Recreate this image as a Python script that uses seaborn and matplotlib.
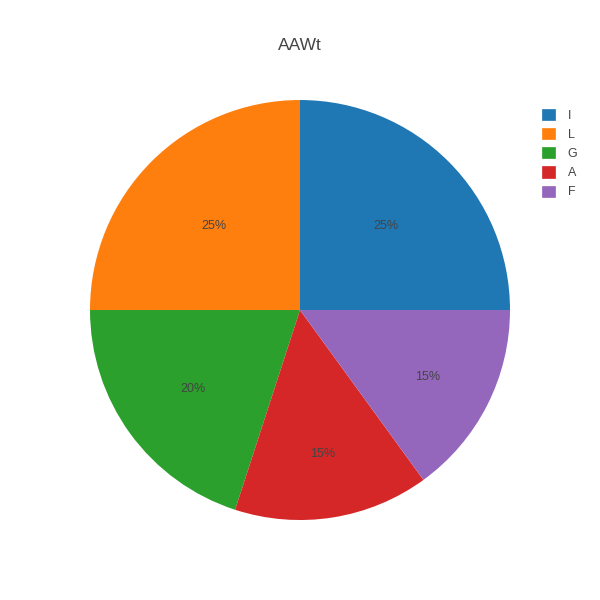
"""Pie chart of AAWt composition."""

import matplotlib
matplotlib.use("Agg")
import matplotlib.pyplot as plt
from matplotlib.patches import Patch
import numpy as np
import seaborn as sns

labels = ["I", "L", "G", "A", "F"]
shares = [25, 25, 20, 15, 15]
title = "AAWt"

sns.set_theme(style="white")
plt.rcParams["font.family"] = ["Liberation Sans", "DejaVu Sans"]

colors = sns.color_palette("tab10", len(labels))
text_color = "#444444"
# plotly-style inside label radius (smaller slices push text outward)
label_radius = [0.58, 0.58, 0.63, 0.684, 0.684]

fig = plt.figure(figsize=(6, 6), dpi=100)
ax = fig.add_axes([0.15, 0.1333, 0.7, 0.7])

wedges, _, autotexts = ax.pie(
    shares,
    colors=colors,
    startangle=0,
    counterclock=True,
    autopct="%1.0f%%",
    pctdistance=0.58,
    textprops={"color": text_color, "fontsize": 9},
    wedgeprops={"linewidth": 0},
)
for w, t, r in zip(wedges, autotexts, label_radius):
    mid = np.deg2rad((w.theta1 + w.theta2) / 2)
    t.set_position((r * np.cos(mid), r * np.sin(mid) - 0.008))

ax.set_xlim(-1, 1)
ax.set_ylim(-1, 1)
ax.set_aspect("equal")

fig.text(0.5, 1 - 45 / 600, title, ha="center", va="center", fontsize=12.5, color=text_color)

handles = [Patch(facecolor=c, edgecolor=c, linewidth=0.5) for c in colors]
fig.legend(
    handles,
    labels,
    loc="upper left",
    bbox_to_anchor=(542 / 600, 1 - 109 / 600),
    frameon=False,
    fontsize=9,
    labelcolor=text_color,
    handlelength=1.0,
    handleheight=1.0,
    handletextpad=1.05,
    labelspacing=0.5,
    borderaxespad=0,
    borderpad=0,
)

fig.savefig("out.png", dpi=100)
plt.close(fig)
